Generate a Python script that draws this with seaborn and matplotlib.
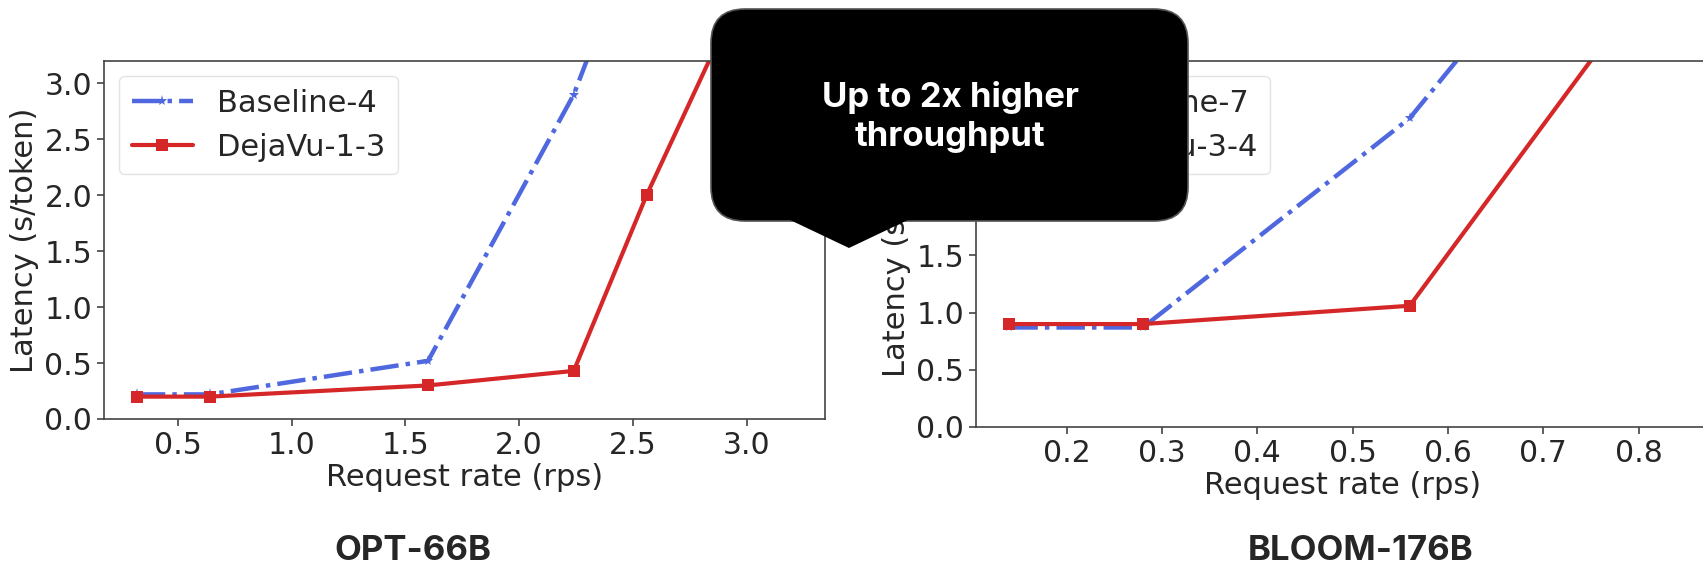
import numpy as np
import pandas as pd
import seaborn as sns
import matplotlib.pyplot as plt
from matplotlib.patches import FancyBboxPatch, Polygon

# Data
opt_rate_base = [0.32, 0.64, 1.60, 2.24, 2.56]
opt_lat_base = [0.22, 0.22, 0.52, 2.90, 4.60]
opt_rate_dv = [0.32, 0.64, 1.60, 2.24, 2.56, 3.20]
opt_lat_dv = [0.20, 0.20, 0.30, 0.43, 2.00, 4.80]

bloom_rate_base = [0.14, 0.28, 0.56, 0.84]
bloom_lat_base = [0.87, 0.87, 2.70, 5.56]
bloom_rate_dv = [0.14, 0.28, 0.56, 0.84]
bloom_lat_dv = [0.90, 0.90, 1.06, 4.22]

panel_titles = ["OPT-66B", "BLOOM-176B"]
legend_labels = [["Baseline-4", "DejaVu-1-3"], ["Baseline-7", "DejaVu-3-4"]]
callout_text = "Up to 2x higher\nthroughput"

sns.set_style("ticks")
plt.rcParams["font.family"] = ["DejaVu Sans"]
plt.rcParams["xtick.labelsize"] = 21.5
plt.rcParams["ytick.labelsize"] = 21.5

blue = "#4f68df"
red = "#d62728"

W, H = 1703, 568
fig = plt.figure(figsize=(W / 100, H / 100), dpi=100)
fig.patch.set_facecolor("white")

ax1 = fig.add_axes([104 / W, 1 - 419 / H, 721 / W, 358 / H])
ax2 = fig.add_axes([976 / W, 1 - 427 / H, 734 / W, 366 / H])

panels = [
    (ax1, opt_rate_base, opt_lat_base, opt_rate_dv, opt_lat_dv, [0.5, 1.0, 1.5, 2.0, 2.5, 3.0]),
    (ax2, bloom_rate_base, bloom_lat_base, bloom_rate_dv, bloom_lat_dv, [0.2, 0.3, 0.4, 0.5, 0.6, 0.7, 0.8]),
]

for i, (ax, xb, yb, xd, yd, xt) in enumerate(panels):
    sns.lineplot(x=xb, y=yb, ax=ax, color=blue, linestyle="-.", marker="*",
                 markersize=8, markeredgewidth=0, linewidth=3.2, label=legend_labels[i][0])
    sns.lineplot(x=xd, y=yd, ax=ax, color=red, linestyle="-", marker="s",
                 markersize=8, markeredgewidth=0, linewidth=3, label=legend_labels[i][1])
    ax.set_ylim(0, 3.2)
    ax.set_yticks([0.0, 0.5, 1.0, 1.5, 2.0, 2.5, 3.0])
    ax.set_xticks(xt)
    ax.set_xlabel("Request rate (rps)", fontsize=22, labelpad=2)
    ax.set_ylabel("Latency (s/token)", fontsize=22, labelpad=4)
    for s in ax.spines.values():
        s.set_visible(True)
        s.set_color("#444444")
        s.set_linewidth(1.2)
    ax.tick_params(length=5, width=1.2, color="#444444")
    ax.legend(loc="upper left", fontsize=22, frameon=True, fancybox=True,
              framealpha=0.8, edgecolor="#dddddd")

ax1.set_xlim(0.176, 3.344)
ax2.set_xlim(0.105, 0.875)

# model names under each chart
fig.text(413 / W, 1 - 551 / H, panel_titles[0], ha="center", va="center",
         fontsize=25, fontweight="bold", family="Inter")
fig.text(1361 / W, 1 - 551 / H, panel_titles[1], ha="center", va="center",
         fontsize=25, fontweight="bold", family="Inter")

# callout bubble on top of everything
over = fig.add_axes([0, 0, 1, 1], zorder=10)
over.set_xlim(0, W)
over.set_ylim(H, 0)
over.axis("off")
over.patch.set_alpha(0)
box = FancyBboxPatch((711, 9), 477, 212, boxstyle="round,pad=0,rounding_size=34",
                     facecolor="black", edgecolor="#555555", linewidth=1.2)
over.add_patch(box)
over.add_patch(Polygon([[788, 219], [849, 248], [910, 219]], closed=True,
                       facecolor="black", edgecolor="none"))
over.text(950, 117, callout_text, ha="center", va="center", color="white",
          fontsize=25, fontweight="bold", family="Inter", linespacing=1.3)

fig.savefig("out.png", dpi=100)
